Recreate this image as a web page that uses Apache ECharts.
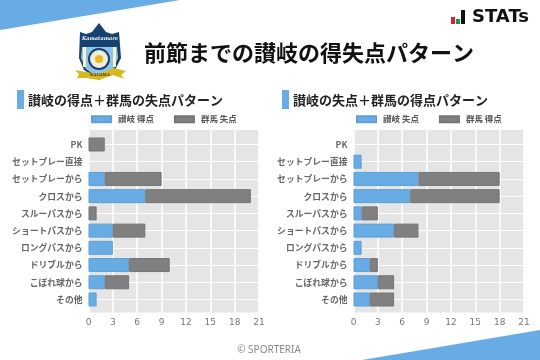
<!DOCTYPE html>
<html>
<head>
<meta charset="utf-8">
<style>
  html, body { margin: 0; padding: 0; background: #fff; }
  #main { width: 540px; height: 360px; }
</style>
<script src="https://cdn.jsdelivr.net/npm/echarts@6/dist/echarts.min.js"></script>
</head>
<body>
<div id="main"></div>
<script>
const categories = ["PK", "セットプレー直接", "セットプレーから", "クロスから", "スルーパスから", "ショートパスから", "ロングパスから", "ドリブルから", "こぼれ球から", "その他"];
const xTicksMax = 21;
const xTickStep = 3;

const sanukiScored = [0, 0, 2, 7, 0, 3, 3, 5, 2, 1];
const gunmaConceded = [2, 0, 7, 13, 1, 4, 0, 5, 3, 0];
const sanukiConceded = [0, 1, 8, 7, 1, 5, 1, 2, 3, 2];
const gunmaScored = [0, 0, 10, 11, 2, 3, 0, 1, 2, 3];

const mainTitle = "前節までの讃岐の得失点パターン";
const leftTitle = "讃岐の得点＋群馬の失点パターン";
const rightTitle = "讃岐の失点＋群馬の得点パターン";

const JP = '"Noto Sans CJK JP", "Noto Sans", sans-serif';
const BLUE = "#68ace5";
const GRAY = "#808080";

const myChart = echarts.init(document.getElementById("main"));

// each panel: one grid for the grey plot + vertical lines, one for the bars
// (plot area is padded past the category centres, as in the reference)
function panelAxes(left) {
  return {
    grids: [
      { left: left, top: 130, width: 170.5, height: 182.5, show: true, backgroundColor: "#e5e5e5", borderWidth: 0 },
      { left: left, top: 144.5, width: 170.5, height: 155 },
    ],
  };
}

const panels = [panelAxes(88.5), panelAxes(353.5)];

const xAxes = [];
const yAxes = [];
panels.forEach((p, i) => {
  const g = i * 2;
  xAxes.push({
    gridIndex: g, type: "value", min: 0, max: xTicksMax, interval: xTickStep,
    axisLine: { show: false }, axisTick: { show: false },
    splitLine: { lineStyle: { color: "#fff", width: 1.5 } },
    axisLabel: { color: "#777", fontSize: 9, margin: 6, fontFamily: "DejaVu Sans", hideOverlap: false },
  });
  xAxes.push({
    gridIndex: g + 1, type: "value", min: 0, max: xTicksMax, interval: xTickStep, show: false,
  });
  yAxes.push({ gridIndex: g, type: "category", data: [], show: false });
  yAxes.push({
    gridIndex: g + 1, type: "category", data: categories, inverse: true, boundaryGap: false,
    axisLine: { show: false }, axisTick: { show: false },
    splitLine: { show: true, lineStyle: { color: "#fff", width: 1 } },
    axisLabel: { color: "#666", fontSize: 8.8, fontWeight: "bold", margin: 6, fontFamily: JP, interval: 0 },
  });
});

function barSeries(name, data, color, border, axisIndex, stack) {
  return {
    name: name, type: "bar", stack: stack,
    // zero segments would otherwise leave a border sliver
    data: data.map((v) => (v === 0 ? null : v)),
    xAxisIndex: axisIndex, yAxisIndex: axisIndex,
    barWidth: 14, clip: false,
    itemStyle: { color: color, borderColor: border, borderWidth: 1 },
    emphasis: { disabled: true },
  };
}

function legendFor(names, left) {
  return {
    data: names, left: left, top: 115, padding: 0, itemWidth: 19, itemHeight: 6, itemGap: 20,
    icon: "rect", selectedMode: false,
    textStyle: { color: "#555", fontSize: 8.5, fontWeight: "bold", fontFamily: JP, padding: [0, 0, 0, 2] },
  };
}

function titleBlock(x, text) {
  return [
    { type: "rect", shape: { x: x, y: 90, width: 7, height: 19 }, style: { fill: BLUE } },
    { type: "text", style: { x: x + 11, y: 100, text: text, fill: "#222", font: 'bold 13px ' + JP, textVerticalAlign: "middle" } },
  ];
}

// crest, hand drawn
const crest = [
  { type: "polygon", shape: { points: [[80, 32], [86, 34], [92, 32], [99, 23], [106, 32], [112, 34], [119, 32], [121, 58], [115, 70], [99, 80], [84, 70], [79, 58]] }, style: { fill: "#17416e" } },
  { type: "polygon", shape: { points: [[82, 47], [117, 47], [118, 58], [113, 69], [99, 78], [86, 69], [81, 58]] }, style: { fill: "#8fc4e8" } },
  { type: "rect", shape: { x: 83, y: 47, width: 3, height: 20 }, style: { fill: "#f7f3c4" } },
  { type: "rect", shape: { x: 113, y: 47, width: 3, height: 20 }, style: { fill: "#f7f3c4" } },
  { type: "circle", shape: { cx: 99, cy: 59, r: 11 }, style: { fill: "#17416e" } },
  { type: "circle", shape: { cx: 99, cy: 59, r: 9 }, style: { fill: "#eeeedd" } },
  { type: "circle", shape: { cx: 99, cy: 59, r: 4 }, style: { fill: "#f0b71e" } },
  { type: "text", style: { x: 100, y: 39, text: "Kamatamare", fill: "#fff", font: "italic bold 5px DejaVu Serif", textAlign: "center", textVerticalAlign: "middle" } },
  { type: "polygon", shape: { points: [[75, 70], [86, 72], [99, 74], [114, 68], [126, 71], [121, 75], [124, 79], [113, 75], [99, 80], [86, 78], [77, 78], [79, 74]] }, style: { fill: "#d9b81e" } },
  { type: "text", style: { x: 100, y: 75, text: "KAGAWA", fill: "#4a3c10", font: "bold 4px DejaVu Serif", textAlign: "center", textVerticalAlign: "middle" } },
];

const option = {
  animation: false,
  backgroundColor: "#fff",
  grid: panels[0].grids.concat(panels[1].grids),
  xAxis: xAxes,
  yAxis: yAxes,
  legend: [
    legendFor(["讃岐 得点", "群馬 失点"], 91),
    legendFor(["讃岐 失点", "群馬 得点"], 356),
  ],
  series: [
    barSeries("讃岐 得点", sanukiScored, BLUE, "#5f9fd4", 1, "left"),
    barSeries("群馬 失点", gunmaConceded, GRAY, "#747474", 1, "left"),
    barSeries("讃岐 失点", sanukiConceded, BLUE, "#5f9fd4", 3, "right"),
    barSeries("群馬 得点", gunmaScored, GRAY, "#747474", 3, "right"),
  ],
  graphic: [
    { type: "polygon", shape: { points: [[0, 0], [180, 0], [0, 30]] }, style: { fill: BLUE } },
    { type: "polygon", shape: { points: [[540, 330], [540, 360], [362, 360]] }, style: { fill: BLUE } },
    ...crest,
    { type: "text", style: { x: 309, y: 53, text: mainTitle, fill: "#111", font: 'bold 22px ' + JP, textAlign: "center", textVerticalAlign: "middle" } },
    ...titleBlock(17, leftTitle),
    ...titleBlock(282, rightTitle),
    { type: "rect", shape: { x: 451, y: 17, width: 4, height: 7 }, style: { fill: "#e0202a" } },
    { type: "rect", shape: { x: 456, y: 19, width: 4, height: 5 }, style: { fill: "#12a04c" } },
    { type: "rect", shape: { x: 461, y: 10, width: 4, height: 14 }, style: { fill: "#111" } },
    { type: "text", style: { x: 472, y: 17.5, text: "STATs", fill: "#111", font: "bold 18px DejaVu Sans", textVerticalAlign: "middle" } },
    { type: "text", style: { x: 269, y: 350, text: "© SPORTERIA", fill: "#888", font: '10px "Noto Sans", sans-serif', textAlign: "center", textVerticalAlign: "middle" } },
  ],
};

myChart.setOption(option);
</script>
</body>
</html>
